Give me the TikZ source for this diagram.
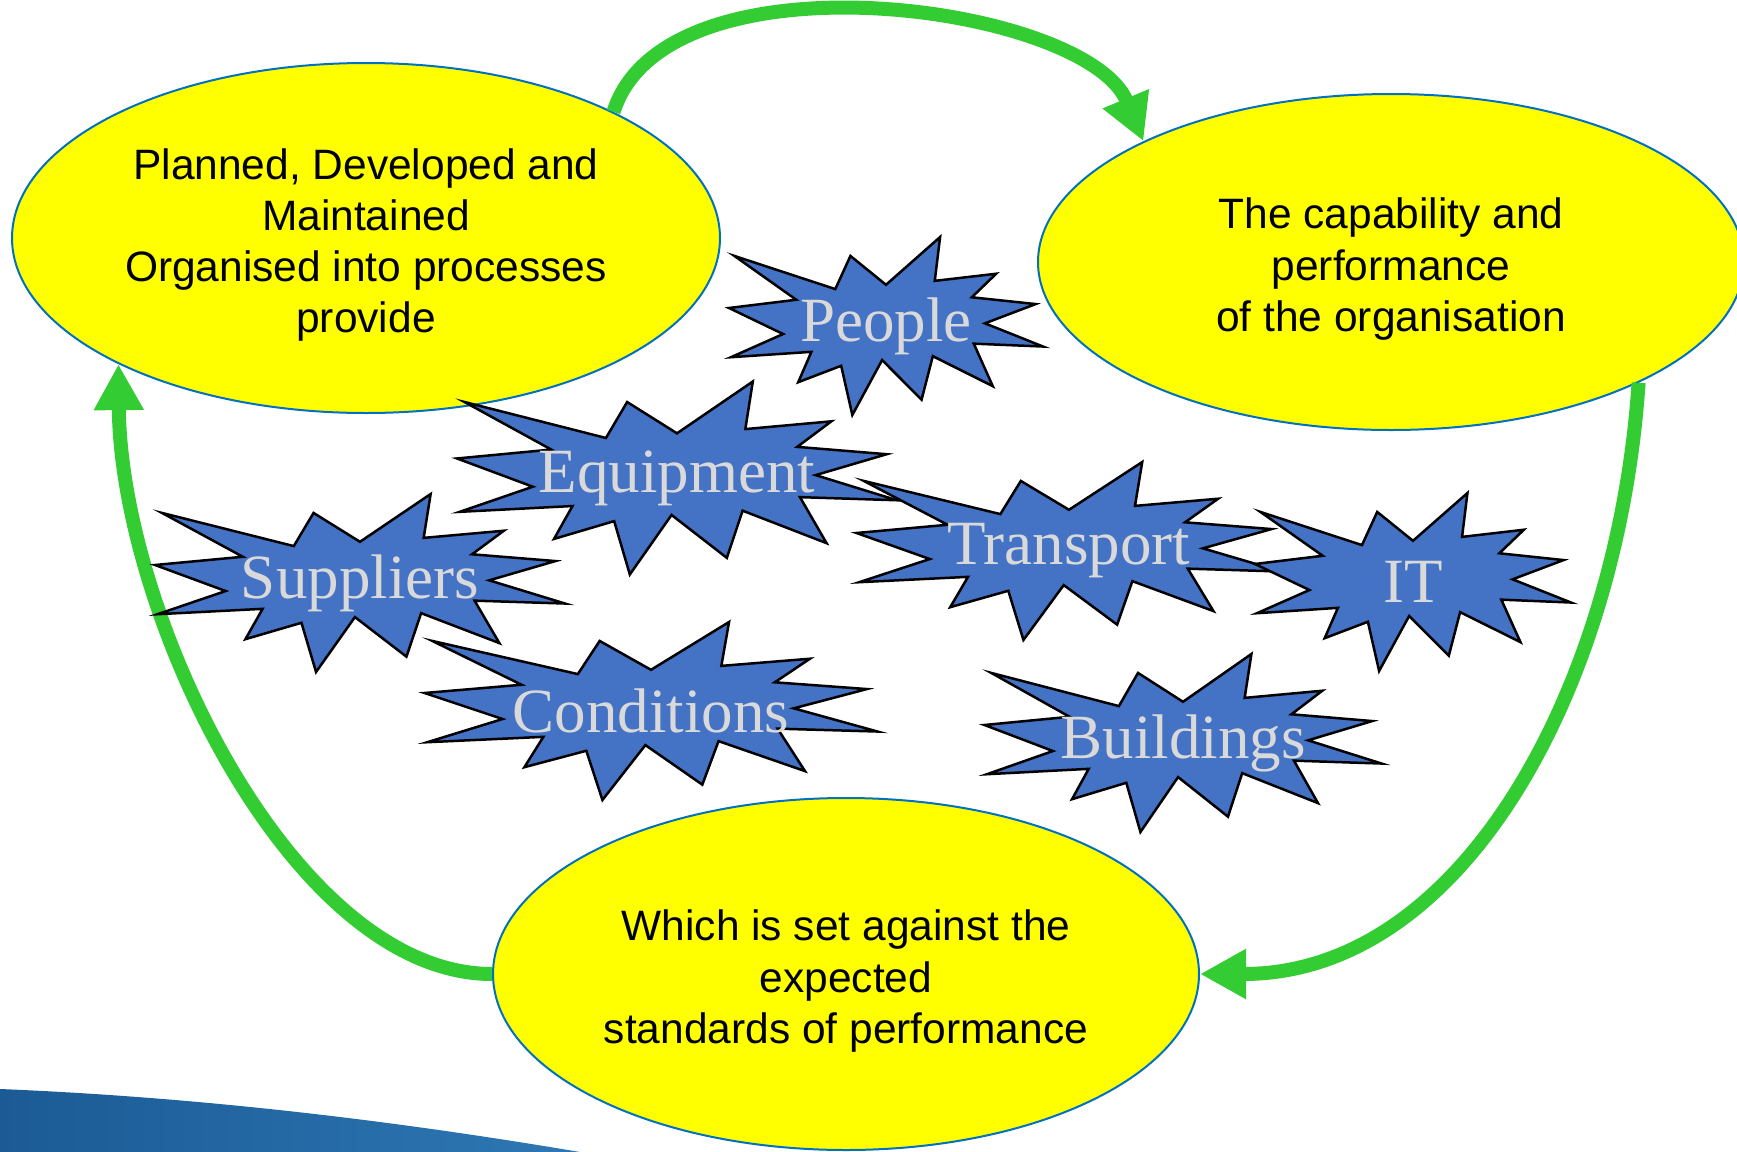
\documentclass[tikz,border=0pt]{standalone}
\usepackage{fontspec}
\setmainfont{Liberation Sans}
\newfontfamily\burstfont{Liberation Serif}
\usetikzlibrary{shapes.geometric,arrows.meta}

\definecolor{ovalfill}{HTML}{FFFF00}
\definecolor{ovalline}{HTML}{0070C0}
\definecolor{burstfill}{HTML}{4472C4}
\definecolor{burstgray}{HTML}{D9D9D9}
\definecolor{flowgreen}{HTML}{33CC33}
\definecolor{swooshdark}{HTML}{1B5A95}
\definecolor{swooshlight}{HTML}{2E78B4}

% taller first line, pushes the oval text down a little
\newcommand{\ovalstrut}{\rule{0pt}{22.5pt}}

\tikzset{
  oval/.style={ellipse, draw=ovalline, line width=1pt, fill=ovalfill,
    inner sep=0pt, align=center, font=\fontsize{21.25}{25.6}\selectfont},
  flow/.style={draw=flowgreen, line width=7pt,
    -{Triangle[length=23pt,width=23.5pt]}},
  burstline/.style={draw=black, line width=1.25pt, fill=burstfill, line join=miter},
  burstlabel/.style={text=burstgray, inner sep=0pt,
    font=\burstfont\fontsize{31.5}{34}\selectfont},
  pics/burst/.style n args={3}{code={
    \draw[burstline, xscale=#1/1000, yscale=#2/1000]
      (0,-231.5) -- (172.3,-500) -- (155.3,-253.5) -- (350.9,-293.7)
      -- (273.2,-161.3) -- (476.7,-123.3) -- (315.1,-15) -- (500,115.3)
      -- (279.5,99.2) -- (340,337.7) -- (149.1,169.3) -- (113.3,413.8)
      -- (-12.4,191.4) -- (-107.2,500) -- (-142.8,223.5) -- (-279.5,315.6)
      -- (-237.6,145.2) -- (-493.8,175.3) -- (-327.7,45.1) -- (-500,-101.2)
      -- (-285.8,-147.4) -- (-482.9,-393.7) -- (-161.5,-207.4) -- (-113.3,-393.7)
      -- cycle;
    \node[burstlabel] (-text) {#3};
  }},
}

\begin{document}
\begin{tikzpicture}[x=0.5pt, y=-0.5pt]
\useasboundingbox (0,0) rectangle (1737,1152);
\clip (0,0) rectangle (1737,1152);

% Swoosh in the corner
\shade[left color=swooshdark, right color=swooshlight]
  (0,1089) .. controls (220,1098) and (420,1125) .. (580,1152) -- (0,1152) -- cycle;

% Ellipses
\node[oval, minimum width=354pt, minimum height=175pt] (plan) at (366,238)
  {\ovalstrut Planned, Developed and\\Maintained\\Organised into processes\\provide};
\node[oval, minimum width=353pt, minimum height=168pt] (capab) at (1391,262)
  {\ovalstrut The capability and\\performance\\of the organisation};
\node[oval, minimum width=353pt, minimum height=176pt] (standards) at (846,974)
  {\ovalstrut Which is set against the\\expected\\standards of performance};

% Cycle arrows
\draw[flow] (plan.27) .. controls +(52,-165) and +(-57,-137) .. (capab.154);
\draw[flow] (capab.-26) .. controls +(-20,300) and +(265,0) .. (standards.east);
\draw[flow] (standards.west) .. controls +(-200,0) and +(2,250) .. (plan.207);

% Resources
\foreach \name/\x/\y/\w/\h/\lbl in {
  people/886/326/314/178/People,
  equipment/677/478/440/193/Equipment,
  suppliers/360/583/410/178/Suppliers,
  transport/1069/551/425/178/Transport,
  it/1413/582/316/178/IT,
  conditions/651/711/453/178/Conditions,
  buildings/1183/743/397/178/Buildings} {
  \pic (\name) at (\x,\y) {burst={\w}{\h}{\lbl}};
}

\end{tikzpicture}
\end{document}
